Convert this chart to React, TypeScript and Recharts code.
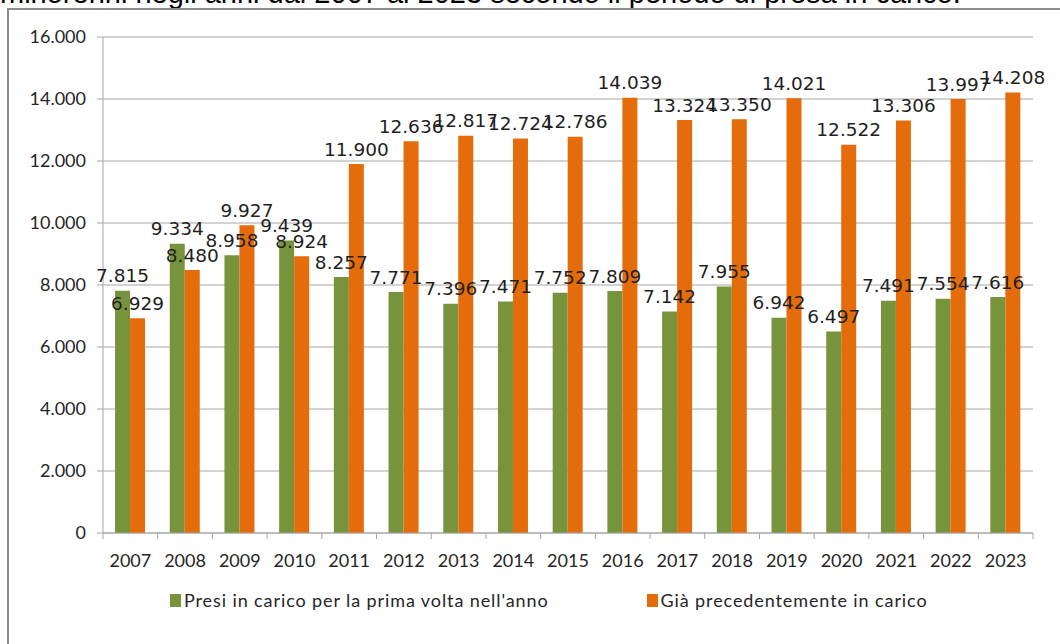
import React from 'react';
import { BarChart, Bar, XAxis, YAxis, CartesianGrid, LabelList } from 'recharts';

const years = ['2007', '2008', '2009', '2010', '2011', '2012', '2013', '2014', '2015', '2016', '2017', '2018', '2019', '2020', '2021', '2022', '2023'];
const primaVolta = [7815, 9334, 8958, 9439, 8257, 7771, 7396, 7471, 7752, 7809, 7142, 7955, 6942, 6497, 7491, 7554, 7616];
const giaInCarico = [6929, 8480, 9927, 8924, 11900, 12636, 12817, 12724, 12786, 14039, 13324, 13350, 14021, 12522, 13306, 13997, 14208];
const yTicks = [0, 2000, 4000, 6000, 8000, 10000, 12000, 14000, 16000];

const series = [
  { key: 'prima', name: "Presi in carico per la prima volta nell'anno", color: '#77933C' },
  { key: 'gia', name: 'Già precedentemente in carico', color: '#E46C0A' },
];

const data = years.map((year, i) => ({ year, prima: primaVolta[i], gia: giaInCarico[i] }));

const W = 1060;
const H = 600;
const M = { top: 37, right: 27, bottom: 27, left: 3 };
const Y_AXIS_W = 100;
const BAND = (W - M.left - M.right - Y_AXIS_W) / years.length;

const fmt = (v: number) => (v === 0 ? '0' : v.toLocaleString('de-DE'));

const XTick = (props: any) => {
  const { x, y, payload, index } = props;
  const axisY = y - 23;
  return (
    <g>
      <line x1={x - BAND / 2} x2={x - BAND / 2} y1={axisY} y2={axisY + 6} stroke="#a6a6a6" />
      {index === years.length - 1 && (
        <line x1={x + BAND / 2} x2={x + BAND / 2} y1={axisY} y2={axisY + 6} stroke="#a6a6a6" />
      )}
      <text x={x} y={y} dy="0.62em" textAnchor="middle" fill="#262626" fontSize={18} fontFamily="Lato">
        {payload.value}
      </text>
    </g>
  );
};

const ValueLabel = (props: any) => {
  const { x, y, width, value } = props;
  return (
    <text
      x={x + width / 2}
      y={y - 15}
      dy="0.36em"
      textAnchor="middle"
      fill="#1f1f1f"
      fontSize={18.5}
      fontFamily="DejaVu Sans"
    >
      {fmt(value)}
    </text>
  );
};

export default function App() {
  return (
    <div style={{ position: 'fixed', left: 0, top: 0, width: W, height: 644, overflow: 'hidden', background: '#fff' }}>
      <div
        style={{
          position: 'absolute',
          left: 0,
          top: -21.5,
          fontFamily: 'Liberation Sans',
          fontSize: 29,
          lineHeight: '29px',
          whiteSpace: 'nowrap',
          color: '#000',
        }}
      >
        minorenni negli anni dal 2007 al 2023 secondo il periodo di presa in carico.
      </div>
      <div
        style={{
          position: 'absolute',
          left: 7,
          top: 8,
          width: 1100,
          height: 700,
          border: '2px solid #8c8c8c',
          boxSizing: 'border-box',
        }}
      />
      <div style={{ position: 'absolute', left: 0, top: 0 }}>
        <BarChart width={W} height={H} data={data} margin={M} barGap={0} barCategoryGap="22%">
          <CartesianGrid vertical={false} stroke="#a6a6a6" />
          <XAxis
            dataKey="year"
            height={40}
            stroke="#a6a6a6"
            tickLine={false}
            tickSize={6}
            tickMargin={17}
            tick={<XTick />}
            interval={0}
          />
          <YAxis
            width={Y_AXIS_W}
            domain={[0, 16000]}
            ticks={yTicks}
            tickFormatter={fmt}
            stroke="#a6a6a6"
            tickSize={6}
            tickMargin={11}
            tick={{ fill: '#262626', fontSize: 18, fontFamily: 'Lato' }}
          />
          {series.map((s) => (
            <Bar key={s.key} dataKey={s.key} name={s.name} fill={s.color} isAnimationActive={false}>
              <LabelList dataKey={s.key} content={<ValueLabel />} />
            </Bar>
          ))}
        </BarChart>
      </div>
      <div
        style={{
          position: 'absolute',
          left: 170,
          top: 589,
          display: 'flex',
          alignItems: 'center',
          fontFamily: 'Lato',
          fontSize: 18,
          letterSpacing: 0.9,
          color: '#262626',
          whiteSpace: 'nowrap',
        }}
      >
        {series.map((s, i) => (
          <div key={s.key} style={{ display: 'flex', alignItems: 'center', marginLeft: i === 0 ? 0 : 98 }}>
            <span style={{ display: 'inline-block', width: 11, height: 13, background: s.color, marginRight: 3 }} />
            <span>{s.name}</span>
          </div>
        ))}
      </div>
    </div>
  );
}
